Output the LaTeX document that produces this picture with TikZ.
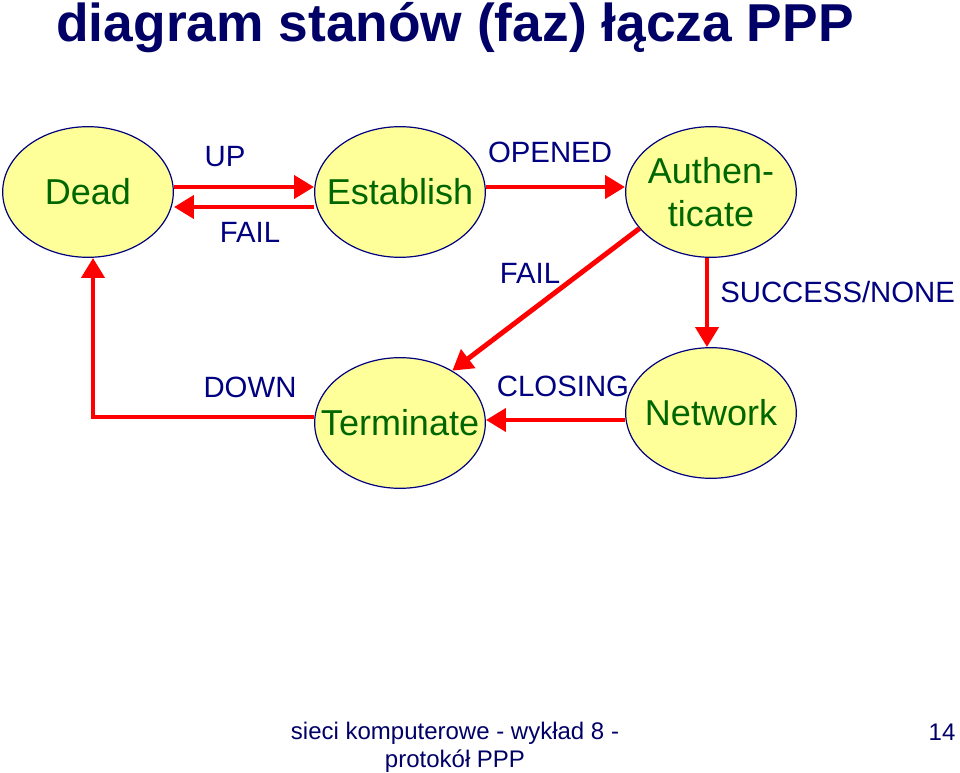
\documentclass[tikz,border=0pt]{standalone}
\usepackage{fontspec}
\setmainfont{Liberation Sans}
\usetikzlibrary{arrows.meta,positioning,shapes.geometric,calc}
\definecolor{c1}{RGB}{0,0,128}
\definecolor{c2}{RGB}{0,102,0}
\definecolor{c3}{RGB}{255,255,153}
\definecolor{c4}{RGB}{255,0,0}
\definecolor{c5}{RGB}{0,0,102}

\begin{document}
\begin{tikzpicture}[x=0.75pt,y=-0.75pt,
    state/.style={ellipse,draw=c1,line width=0.9pt,fill=c3,inner sep=0pt,
                  minimum width=128pt,minimum height=98pt},
    stname/.style={font=\fontsize{27}{32}\selectfont,text=c2,align=center,inner sep=0pt},
    trans/.style={draw=c4,line width=3.7pt,-{Triangle[length=15pt,width=17pt]}},
    lbl/.style={font=\fontsize{22}{26}\selectfont,text=c1,inner sep=0pt}]
  \useasboundingbox (0,0) rectangle (960,773);

  \node[font=\fontsize{40}{48}\selectfont\bfseries,text=c5,anchor=base]
    (title) at (455,42) {diagram stanów (faz) łącza PPP};

  % states
  \node[state,label={[stname]center:Dead}] (dead) at (88,192) {};
  \node[state,label={[stname]center:Establish}] (est) at (400,192) {};
  \node[state,label={[stname]center:{Authen-\\ticate}}] (auth) at (711,192) {};
  \node[state,label={[stname]center:Terminate}] (term) at (400,423) {};
  \node[state,label={[stname]center:Network}] (net) at (711,413) {};

  % transitions
  \draw[trans] ($(dead.east)+(0,-5)$) -- ($(est.west)+(0,-5)$);
  \draw[trans] ($(est.west)+(0,15)$) -- ($(dead.east)+(0,15)$);
  \draw[trans] ($(est.east)+(0,-5)$) -- ($(auth.west)+(0,-5)$);
  \draw[trans] (auth.207) -- (term.45);
  \draw[trans] ($(auth.south)+(-4,0)$) -- ($(net.north)+(-4,0)$);
  \coordinate (cl) at ($(term.east)+(0,-3)$);
  \draw[trans] (net.west |- cl) -- (cl);
  \draw[trans] ($(term.west)+(0,-6)$) -| ($(dead.south)+(5,0)$);

  \node[lbl] (up) at (225,157) {UP};
  \node[lbl] (fail1) at (250,232) {FAIL};
  \node[lbl] (opened) at (550,152) {OPENED};
  \node[lbl] (fail2) at (530,273) {FAIL};
  \node[lbl,anchor=west] (succ) at (720,292) {SUCCESS/NONE};
  \node[lbl] (closing) at (563,386) {CLOSING};
  \node[lbl] (down) at (250,387) {DOWN};

  % footer
  \node[font=\fontsize{18}{21}\selectfont,text=c5,align=center,anchor=north,inner sep=0pt]
    (foot) at (455,722) {sieci komputerowe - wykład 8 -\\protokół PPP};
  \node[font=\fontsize{18}{21}\selectfont,text=c5,anchor=base] (page) at (942,740) {14};
\end{tikzpicture}
\end{document}
